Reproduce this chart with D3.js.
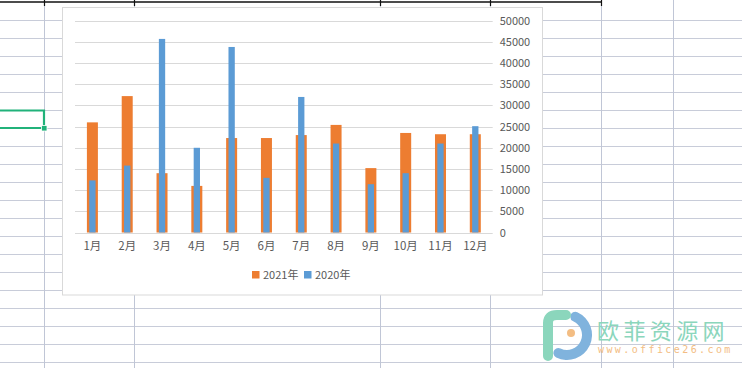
<!DOCTYPE html>
<html><head><meta charset="utf-8">
<script src="https://cdn.jsdelivr.net/npm/d3@7/dist/d3.min.js"></script>
<style>
html,body{margin:0;padding:0;background:#fff;overflow:hidden}
svg{display:block}
text{font-family:"Noto Sans CJK SC","Microsoft YaHei",sans-serif}
</style></head>
<body>
<svg id="c" width="742" height="368"></svg>
<script>
const months = ["1月","2月","3月","4月","5月","6月","7月","8月","9月","10月","11月","12月"];
const values2021 = [26000,32200,14000,11000,22300,22300,23000,25400,15200,23500,23200,23200];
const values2020 = [12300,15800,45700,20000,43800,12900,32000,21000,11400,14000,21000,25100];
const yTicks = [0,5000,10000,15000,20000,25000,30000,35000,40000,45000,50000];
const seriesNames = ["2021年","2020年"];
const colors = ["#ED7D31","#5B9BD5"];

const svg = d3.select("#c");

// spreadsheet background grid
const rowLines = d3.range(20.5, 368, 18);
const colLines = [44.5, 134.5, 380.5, 490.5, 601.5, 673.5];
svg.append("g").selectAll("line").data(rowLines).join("line")
  .attr("x1",0).attr("x2",742).attr("y1",d=>d).attr("y2",d=>d)
  .attr("stroke","#c8ccd9").attr("stroke-width",1);
svg.append("g").selectAll("line").data(colLines).join("line")
  .attr("x1",d=>d).attr("x2",d=>d).attr("y1",0).attr("y2",368)
  .attr("stroke","#c0c6d6").attr("stroke-width",1);
// top black border
svg.append("line").attr("x1",0).attr("x2",601.5).attr("y1",2).attr("y2",2)
  .attr("stroke","#111").attr("stroke-width",1.6);
svg.append("g").selectAll("line").data(colLines.slice(0,5)).join("line")
  .attr("x1",d=>d).attr("x2",d=>d).attr("y1",0).attr("y2",6)
  .attr("stroke","#111").attr("stroke-width",1.2);

// selected cell
svg.append("path").attr("d","M0,110.5 H44 V128 H0")
  .attr("fill","none").attr("stroke","#21b27a").attr("stroke-width",2.2);
svg.append("rect").attr("x",41.5).attr("y",125.5).attr("width",5.5).attr("height",5.5)
  .attr("fill","#21b27a").attr("stroke","#fff").attr("stroke-width",0.8);

// chart area
svg.append("rect").attr("x",62.5).attr("y",7.5).attr("width",480).attr("height",287.5)
  .attr("fill","#fff").attr("stroke","#d9d9d9").attr("stroke-width",1);

const x = d3.scaleBand().domain(months).range([75, 492.7]);
const y = d3.scaleLinear().domain([0,50000]).range([232.5, 20.7]);

// gridlines
svg.append("g").selectAll("line").data(yTicks).join("line")
  .attr("x1",75).attr("x2",492.7)
  .attr("y1",d=>Math.round(y(d))+0.5).attr("y2",d=>Math.round(y(d))+0.5)
  .attr("stroke","#d9d9d9").attr("stroke-width",1);

// bars 2021 (wide) then 2020 (narrow on top)
const wOrange = 11, wBlue = 6.3;
svg.append("g").selectAll("rect").data(values2021).join("rect")
  .attr("x",(d,i)=>x(months[i])+x.bandwidth()/2-wOrange/2)
  .attr("width",wOrange)
  .attr("y",d=>y(d)).attr("height",d=>y(0)-y(d))
  .attr("fill",colors[0]);
svg.append("g").selectAll("rect").data(values2020).join("rect")
  .attr("x",(d,i)=>x(months[i])+x.bandwidth()/2-wBlue/2)
  .attr("width",wBlue)
  .attr("y",d=>y(d)).attr("height",d=>y(0)-y(d))
  .attr("fill",colors[1]);

// y axis at right
const yAxis = d3.axisRight(y).tickValues(yTicks).tickSize(0).tickPadding(7).tickFormat(d=>String(d));
const gy = svg.append("g").attr("transform","translate(492.7,0)").call(yAxis);
gy.select(".domain").remove();
gy.selectAll("text").attr("fill","#595959").style("font-size","11px")
  .style("font-family","'Noto Sans CJK SC',sans-serif");

// x axis labels
const xAxis = d3.axisBottom(x).tickSize(0).tickPadding(9);
const gx = svg.append("g").attr("transform","translate(0,232.5)").call(xAxis);
gx.select(".domain").remove();
gx.selectAll("text").attr("fill","#595959").style("font-size","11.5px")
  .style("font-family","'Noto Sans CJK SC',sans-serif");

// legend
const legX = [252, 304];
const leg = svg.append("g").selectAll("g").data(seriesNames).join("g")
  .attr("transform",(d,i)=>`translate(${legX[i]},271)`);
leg.append("rect").attr("width",7.5).attr("height",7.5).attr("fill",(d,i)=>colors[i]);
leg.append("text").attr("x",11).attr("y",4).attr("dy","0.35em").text(d=>d)
  .attr("fill","#595959").style("font-size","11px");

// watermark
const wm = svg.append("g");
const arc = d3.arc().innerRadius(15).outerRadius(25)
  .startAngle(10*Math.PI/180).endAngle(220*Math.PI/180).cornerRadius(5);
wm.append("path").attr("d",arc()).attr("transform","translate(567,335)").attr("fill","#80b3dd");
wm.append("path").attr("d","M548,356 V323 Q548,315 557,315 H566")
  .attr("fill","none").attr("stroke","#8bd6bc").attr("stroke-width",10).attr("stroke-linecap","round");
wm.append("circle").attr("cx",571).attr("cy",333).attr("r",4).attr("fill","#f3bd83");
wm.append("text").attr("x",597).attr("y",339).text("欧菲资源网")
  .attr("fill","#8bd6bc").style("font-size","22px").style("letter-spacing","4.4px");
wm.append("text").attr("x",598).attr("y",353).text("www.office26.com")
  .attr("fill","#f3bd83").style("font-size","10px").style("letter-spacing","2.4px")
  .style("font-family","'DejaVu Sans Mono',monospace");
</script>
</body></html>
